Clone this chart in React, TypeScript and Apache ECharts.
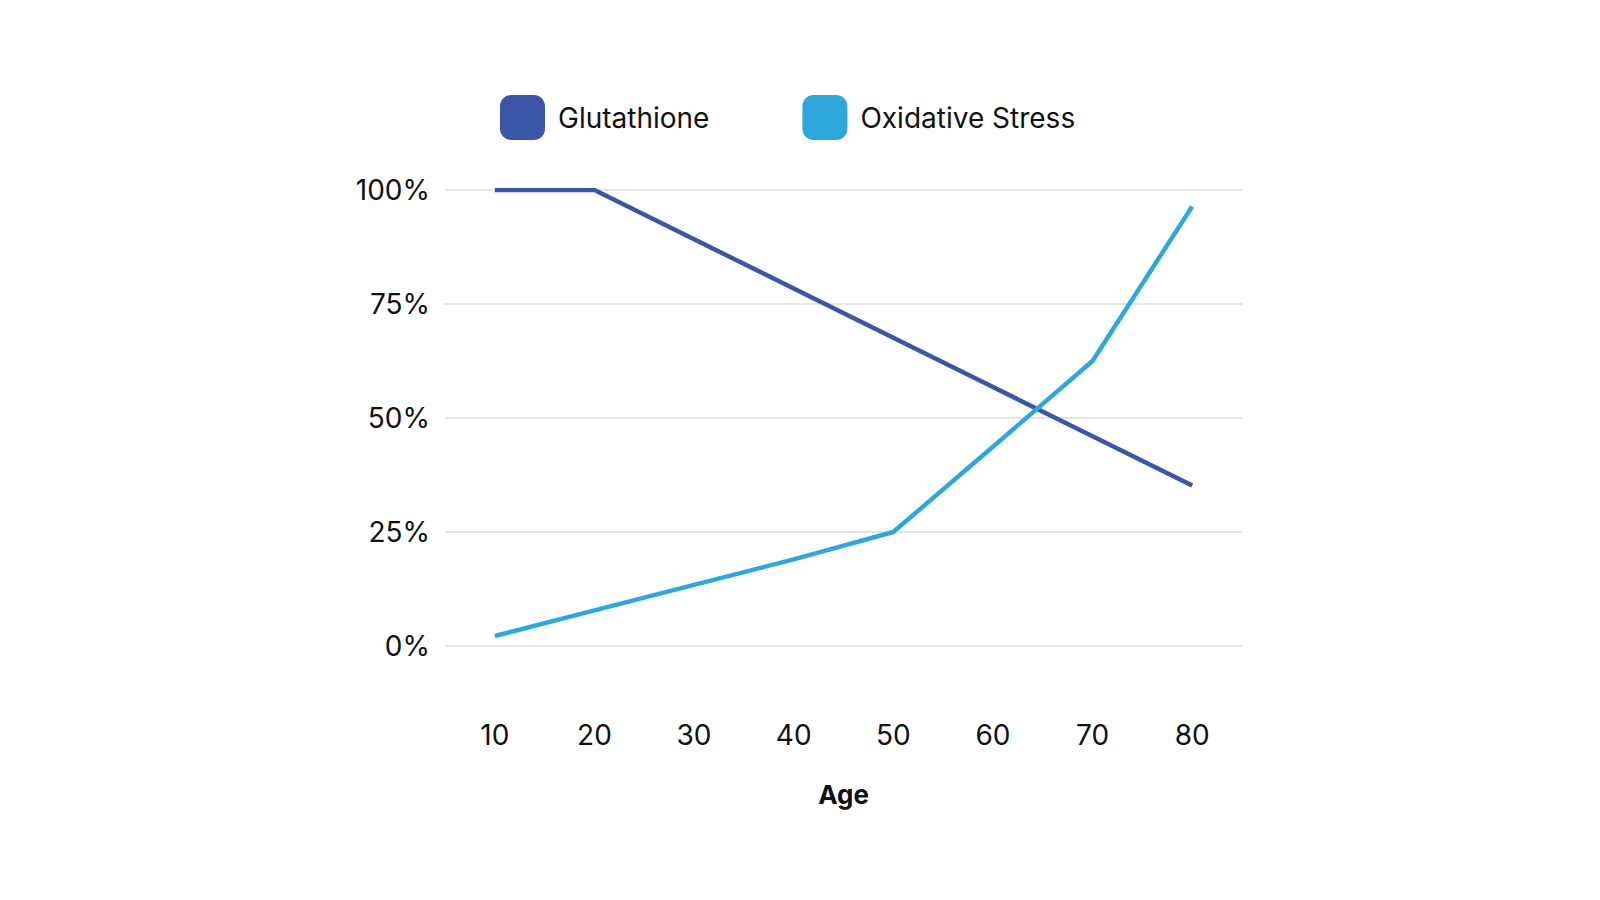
import { useEffect, useRef } from "react";
import * as echarts from "echarts";

const ages = ["10", "20", "30", "40", "50", "60", "70", "80"];
const glutathione = [100, 100, 89.2, 78.4, 67.6, 56.8, 46, 35.2];
const oxidativeStress = [2.2, 7.8, 13.4, 19, 25, 43.7, 62.5, 96.4];

export default function App() {
  const ref = useRef<HTMLDivElement>(null);

  useEffect(() => {
    if (!ref.current) return;
    const chart = echarts.init(ref.current, null, { renderer: "svg" });
    const font = "Inter, 'Noto Sans', sans-serif";
    chart.setOption({
      animation: false,
      textStyle: { fontFamily: font },
      legend: {
        top: 90,
        left: 495,
        itemWidth: 45,
        itemHeight: 45,
        itemGap: 93,
        icon: "roundRect",
        textStyle: { fontSize: 28, color: "#111", fontFamily: font, padding: [0, 0, 0, 8] },
        data: ["Glutathione", "Oxidative Stress"],
      },
      grid: { left: 445, right: 358, top: 190, bottom: 254 },
      xAxis: {
        type: "category",
        data: ages,
        boundaryGap: true,
        name: "Age",
        nameLocation: "middle",
        nameGap: 135,
        nameTextStyle: { fontSize: 26, fontWeight: "bold", color: "#111", fontFamily: font },
        axisLine: { show: false },
        axisTick: { show: false },
        axisLabel: { fontSize: 28, color: "#111", margin: 75, fontFamily: font },
      },
      yAxis: {
        type: "value",
        min: 0,
        max: 100,
        interval: 25,
        axisLabel: { formatter: "{value}%", fontSize: 28, color: "#111", margin: 15, fontFamily: font },
        splitLine: { lineStyle: { color: "#dcdcdc", width: 1.5 } },
      },
      series: [
        {
          name: "Glutathione",
          type: "line",
          data: glutathione,
          symbol: "none",
          color: "#3b55a8",
          lineStyle: { width: 4.5 },
        },
        {
          name: "Oxidative Stress",
          type: "line",
          data: oxidativeStress,
          symbol: "none",
          color: "#2ea8dc",
          lineStyle: { width: 4.5 },
        },
      ],
    });
    return () => chart.dispose();
  }, []);

  return (
    <div
      ref={ref}
      style={{ position: "fixed", left: 0, top: 0, width: 1600, height: 900, background: "#fff" }}
    />
  );
}
